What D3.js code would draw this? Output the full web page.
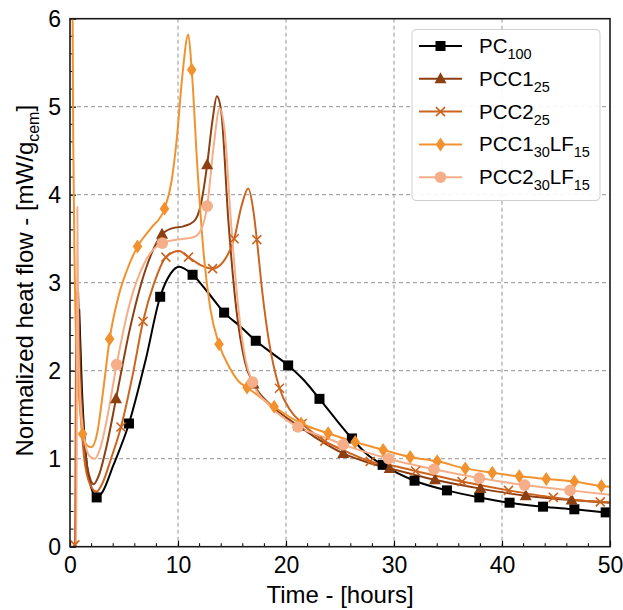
<!DOCTYPE html>
<html><head><meta charset="utf-8">
<script src="https://cdn.jsdelivr.net/npm/d3@7"></script>
<style>body{margin:0;background:#fff}svg{display:block}</style>
</head><body>
<script>
// ---- data (hours, mW/g_cem) ----
const xTicks = [0,10,20,30,40,50];
const yTicks = [0,1,2,3,4,5,6];

const pc100Line = [[0.85,2.7],[1.1,1.8],[1.5,1.0],[2.0,0.66],[2.45,0.56],[3.0,0.62],[4.0,0.92],[5.46,1.40],[7.0,2.12],[8.35,2.84],[9.3,3.1],[10.1,3.18],[11.35,3.09],[12.7,2.9],[14.27,2.66],[15.8,2.5],[17.2,2.34],[18.7,2.2],[20.2,2.06],[21.6,1.9],[23.1,1.68],[24.6,1.45],[26.1,1.23],[27.5,1.05],[28.95,0.93],[31.9,0.75],[34.9,0.64],[37.9,0.56],[40.7,0.5],[43.8,0.455],[46.7,0.425],[49.6,0.39],[50,0.385]];
const pc100Marks = [[2.47,0.56],[5.46,1.40],[8.35,2.84],[11.35,3.09],[14.27,2.66],[17.2,2.34],[20.2,2.06],[23.1,1.68],[26.1,1.23],[28.95,0.93],[31.9,0.75],[34.9,0.64],[37.9,0.56],[40.7,0.5],[43.8,0.455],[46.7,0.425],[49.6,0.39]];

const pcc1Line = [[0.75,2.9],[1.0,1.9],[1.4,1.1],[1.9,0.76],[2.2,0.71],[2.7,0.82],[3.4,1.15],[4.26,1.68],[5.5,2.45],[7.0,3.15],[8.52,3.55],[9.5,3.62],[10.5,3.64],[11.5,3.7],[12.1,3.88],[12.7,4.34],[13.2,4.85],[13.6,5.12],[14.0,4.95],[14.66,3.71],[15.4,2.7],[16.2,2.1],[17.0,1.85],[18.5,1.62],[20.0,1.47],[21.2,1.37],[23.0,1.22],[25.3,1.06],[27.5,0.96],[29.6,0.89],[31.8,0.82],[33.8,0.76],[38.0,0.66],[42.2,0.58],[46.45,0.53],[50,0.5]];
const pcc1Marks = [[4.26,1.68],[8.52,3.55],[12.7,4.34],[17.0,1.85],[21.2,1.37],[25.3,1.06],[29.6,0.89],[33.8,0.76],[38.0,0.66],[42.2,0.58],[46.45,0.53]];

const pcc2Line = [[0.3,0],[0.45,0.02],[0.6,2.9],[0.85,1.9],[1.2,1.15],[1.7,0.76],[2.45,0.625],[3.0,0.72],[3.8,1.0],[4.72,1.36],[5.8,1.95],[6.76,2.56],[7.8,3.0],[8.88,3.29],[10.1,3.36],[10.97,3.29],[12.1,3.2],[13.2,3.16],[14.2,3.24],[15.2,3.5],[15.9,3.88],[16.5,4.07],[17.0,3.8],[17.3,3.49],[17.8,2.9],[18.4,2.35],[19.4,1.8],[20.4,1.55],[21.5,1.4],[23.6,1.2],[25.8,1.07],[27.8,0.97],[29.9,0.92],[32.0,0.86],[36.3,0.74],[40.6,0.64],[44.75,0.56],[49.1,0.51],[50,0.505]];
const pcc2Marks = [[0.45,0.02],[4.72,1.36],[6.76,2.56],[8.88,3.29],[10.97,3.29],[13.2,3.16],[15.2,3.5],[17.3,3.49],[19.4,1.8],[21.5,1.4],[23.6,1.2],[27.8,0.97],[32.0,0.86],[36.3,0.74],[40.6,0.64],[44.75,0.56],[49.1,0.51]];

const pcc1lfLine = [[0.2,7],[0.3,4.6],[0.45,3.0],[0.65,2.1],[0.9,1.6],[1.17,1.28],[1.6,1.15],[2.0,1.13],[2.5,1.28],[3.1,1.8],[3.67,2.36],[4.5,2.85],[5.3,3.15],[6.25,3.41],[7.5,3.62],[8.75,3.84],[9.4,4.15],[9.9,4.65],[10.4,5.35],[10.95,5.82],[11.27,5.42],[11.8,4.3],[12.4,3.3],[13.0,2.7],[13.8,2.3],[14.8,2.03],[15.6,1.88],[16.4,1.81],[17.6,1.7],[18.9,1.59],[21.4,1.4],[23.9,1.29],[26.4,1.19],[29.0,1.1],[31.5,1.02],[34.0,0.97],[36.6,0.89],[39.1,0.84],[41.6,0.8],[44.1,0.77],[46.7,0.74],[49.2,0.69],[50,0.68]];
const pcc1lfMarks = [[1.17,1.28],[3.67,2.36],[6.25,3.41],[8.75,3.84],[11.27,5.42],[13.8,2.3],[16.4,1.81],[18.9,1.59],[21.4,1.4],[23.9,1.29],[26.4,1.19],[29.0,1.1],[31.5,1.02],[34.0,0.97],[36.6,0.89],[39.1,0.84],[41.6,0.8],[44.1,0.77],[46.7,0.74],[49.2,0.69]];

const pcc2lfLine = [[0,0],[0.6,0],[0.68,3.86],[0.76,2.4],[0.95,1.7],[1.3,1.25],[1.8,1.03],[2.3,1.0],[2.8,1.12],[3.5,1.5],[4.32,2.07],[5.5,2.75],[7.0,3.25],[8.55,3.45],[10.0,3.49],[11.5,3.52],[12.2,3.62],[12.7,3.87],[13.3,4.55],[13.85,4.98],[14.3,4.75],[14.9,3.7],[15.6,2.7],[16.3,2.1],[16.9,1.87],[18.5,1.6],[21.1,1.36],[23.2,1.26],[25.3,1.16],[29.5,1.0],[33.7,0.88],[37.9,0.78],[42.1,0.7],[46.3,0.64],[50,0.59]];
const pcc2lfMarks = [[4.32,2.07],[8.55,3.45],[12.7,3.87],[16.9,1.87],[21.1,1.36],[25.3,1.16],[29.5,1.0],[33.7,0.88],[37.9,0.78],[42.1,0.7],[46.3,0.64]];

const seriesNames = ["PC100","PCC1_25","PCC2_25","PCC1_30LF15","PCC2_30LF15"];
const seriesLabels = [
  [["PC",0],["100",1]],
  [["PCC1",0],["25",1]],
  [["PCC2",0],["25",1]],
  [["PCC1",0],["30",1],["LF",0],["15",1]],
  [["PCC2",0],["30",1],["LF",0],["15",1]]
];
const seriesColors = ["#000000","#8c3f10","#cc6420","#f2922e","#f5ae88"];
const seriesShapes = ["square","triangle","cross","diamond","circle"];
const seriesLines = [pc100Line,pcc1Line,pcc2Line,pcc1lfLine,pcc2lfLine];
const seriesMarks = [pc100Marks,pcc1Marks,pcc2Marks,pcc1lfMarks,pcc2lfMarks];

// ---- drawing ----
const W=623,H=610;
const L=70,R=610,T=18.7,B=546.7;
const font='"Liberation Sans", Arial, "DejaVu Sans", sans-serif';
const x=d3.scaleLinear().domain([0,50]).range([L,R]);
const y=d3.scaleLinear().domain([0,6]).range([B,T]);

const svg=d3.select("body").append("svg").attr("width",W).attr("height",H).style("font-family",font);

svg.append("defs").append("clipPath").attr("id","clip").append("rect")
  .attr("x",L).attr("y",T).attr("width",R-L).attr("height",B-T);

// grid
const grid=svg.append("g").attr("stroke","#949494").attr("stroke-width",1).attr("stroke-dasharray","4,3");
grid.selectAll("line.gx").data(xTicks.filter(d=>d>0&&d<50)).join("line")
  .attr("x1",d=>x(d)).attr("x2",d=>x(d)).attr("y1",T).attr("y2",B);
grid.selectAll("line.gy").data(yTicks.filter(d=>d>0&&d<6)).join("line")
  .attr("y1",d=>y(d)).attr("y2",d=>y(d)).attr("x1",L).attr("x2",R);

// axes
const xAxis=d3.axisBottom(x).tickValues(xTicks).tickSize(-6).tickPadding(10).tickFormat(d3.format("d"));
const gx=svg.append("g").attr("transform",`translate(0,${B})`).call(xAxis);
const yAxis=d3.axisLeft(y).tickValues(yTicks).tickSize(-6).tickPadding(9).tickFormat(d3.format("d"));
const gy=svg.append("g").attr("transform",`translate(${L},0)`).call(yAxis);
[gx,gy].forEach(g=>{
  g.select(".domain").remove();
  g.selectAll("text").attr("font-size",23).attr("fill","#000").style("font-family",font);
  g.selectAll("line").attr("stroke","#000").attr("stroke-width",1.2);
});
// minor ticks
const xMinor=d3.range(0,51,2).filter(d=>d%10!==0);
svg.append("g").selectAll("line").data(xMinor).join("line")
  .attr("x1",d=>x(d)).attr("x2",d=>x(d)).attr("y1",B).attr("y2",B-3.5).attr("stroke","#000").attr("stroke-width",1);
const yMinor=d3.range(0,6.01,0.2).map(d=>+d.toFixed(1)).filter(d=>Math.abs(d-Math.round(d))>0.01);
svg.append("g").selectAll("line").data(yMinor).join("line")
  .attr("y1",d=>y(d)).attr("y2",d=>y(d)).attr("x1",L).attr("x2",L+3.5).attr("stroke","#000").attr("stroke-width",1);

// lines
const line=d3.line().x(d=>x(d[0])).y(d=>y(d[1])).curve(d3.curveMonotoneX);
const plot=svg.append("g").attr("clip-path","url(#clip)");
seriesLines.forEach((data,i)=>{
  plot.append("path").datum(data).attr("d",line).attr("fill","none")
    .attr("stroke",seriesColors[i]).attr("stroke-width",2);
});

function drawMarker(g,shape,color,cx,cy,s){
  s=s||1;
  if(shape==="square") g.append("rect").attr("x",cx-5*s).attr("y",cy-5*s).attr("width",10*s).attr("height",10*s).attr("fill",color);
  else if(shape==="triangle") g.append("path").attr("d",`M${cx},${cy-6.5*s}L${cx+6*s},${cy+4.5*s}L${cx-6*s},${cy+4.5*s}Z`).attr("fill",color);
  else if(shape==="diamond") g.append("path").attr("d",`M${cx},${cy-7*s}L${cx+4.8*s},${cy}L${cx},${cy+7*s}L${cx-4.8*s},${cy}Z`).attr("fill",color);
  else if(shape==="circle") g.append("circle").attr("cx",cx).attr("cy",cy).attr("r",5.8*s).attr("fill",color);
  else if(shape==="cross") g.append("path").attr("d",`M${cx-4.5*s},${cy-4.5*s}L${cx+4.5*s},${cy+4.5*s}M${cx-4.5*s},${cy+4.5*s}L${cx+4.5*s},${cy-4.5*s}`).attr("stroke",color).attr("stroke-width",1.6).attr("fill","none");
}
const mk=svg.append("g").attr("clip-path","url(#clip)");
seriesMarks.forEach((data,i)=>{
  data.forEach(d=>drawMarker(mk,seriesShapes[i],seriesColors[i],x(d[0]),y(d[1])));
});

// frame
svg.append("rect").attr("x",L).attr("y",T).attr("width",R-L).attr("height",B-T)
  .attr("fill","none").attr("stroke","#1a1a1a").attr("stroke-width",1.6);

// axis labels
svg.append("text").attr("x",(L+R)/2).attr("y",603).attr("text-anchor","middle")
  .attr("font-size",24).text("Time - [hours]");
const yl=svg.append("text").attr("transform",`translate(33,${(T+B)/2-2}) rotate(-90)`)
  .attr("text-anchor","middle").attr("font-size",24);
yl.append("tspan").text("Normalized heat flow - [mW/g");
yl.append("tspan").attr("font-size",16).attr("dy",6).text("cem");
yl.append("tspan").attr("dy",-6).text("]");

// legend
const lg=svg.append("g");
lg.append("rect").attr("x",412).attr("y",29.5).attr("width",188).attr("height",171).attr("rx",4)
  .attr("fill","#fff").attr("fill-opacity",0.9).attr("stroke","#cfcfcf").attr("stroke-width",1);
seriesLabels.forEach((parts,i)=>{
  const ly=46+i*32.8;
  lg.append("line").attr("x1",419).attr("x2",462).attr("y1",ly).attr("y2",ly)
    .attr("stroke",seriesColors[i]).attr("stroke-width",2);
  drawMarker(lg,seriesShapes[i],seriesColors[i],440.5,ly);
  const t=lg.append("text").attr("x",479).attr("y",ly+7).attr("font-size",20.5);
  let sub=false;
  parts.forEach(p=>{
    const ts=t.append("tspan").text(p[0]);
    if(p[1]&&!sub){ts.attr("font-size",14.5).attr("dy",6);sub=true;}
    else if(!p[1]&&sub){ts.attr("dy",-6);sub=false;}
  });
});
</script>
</body></html>
